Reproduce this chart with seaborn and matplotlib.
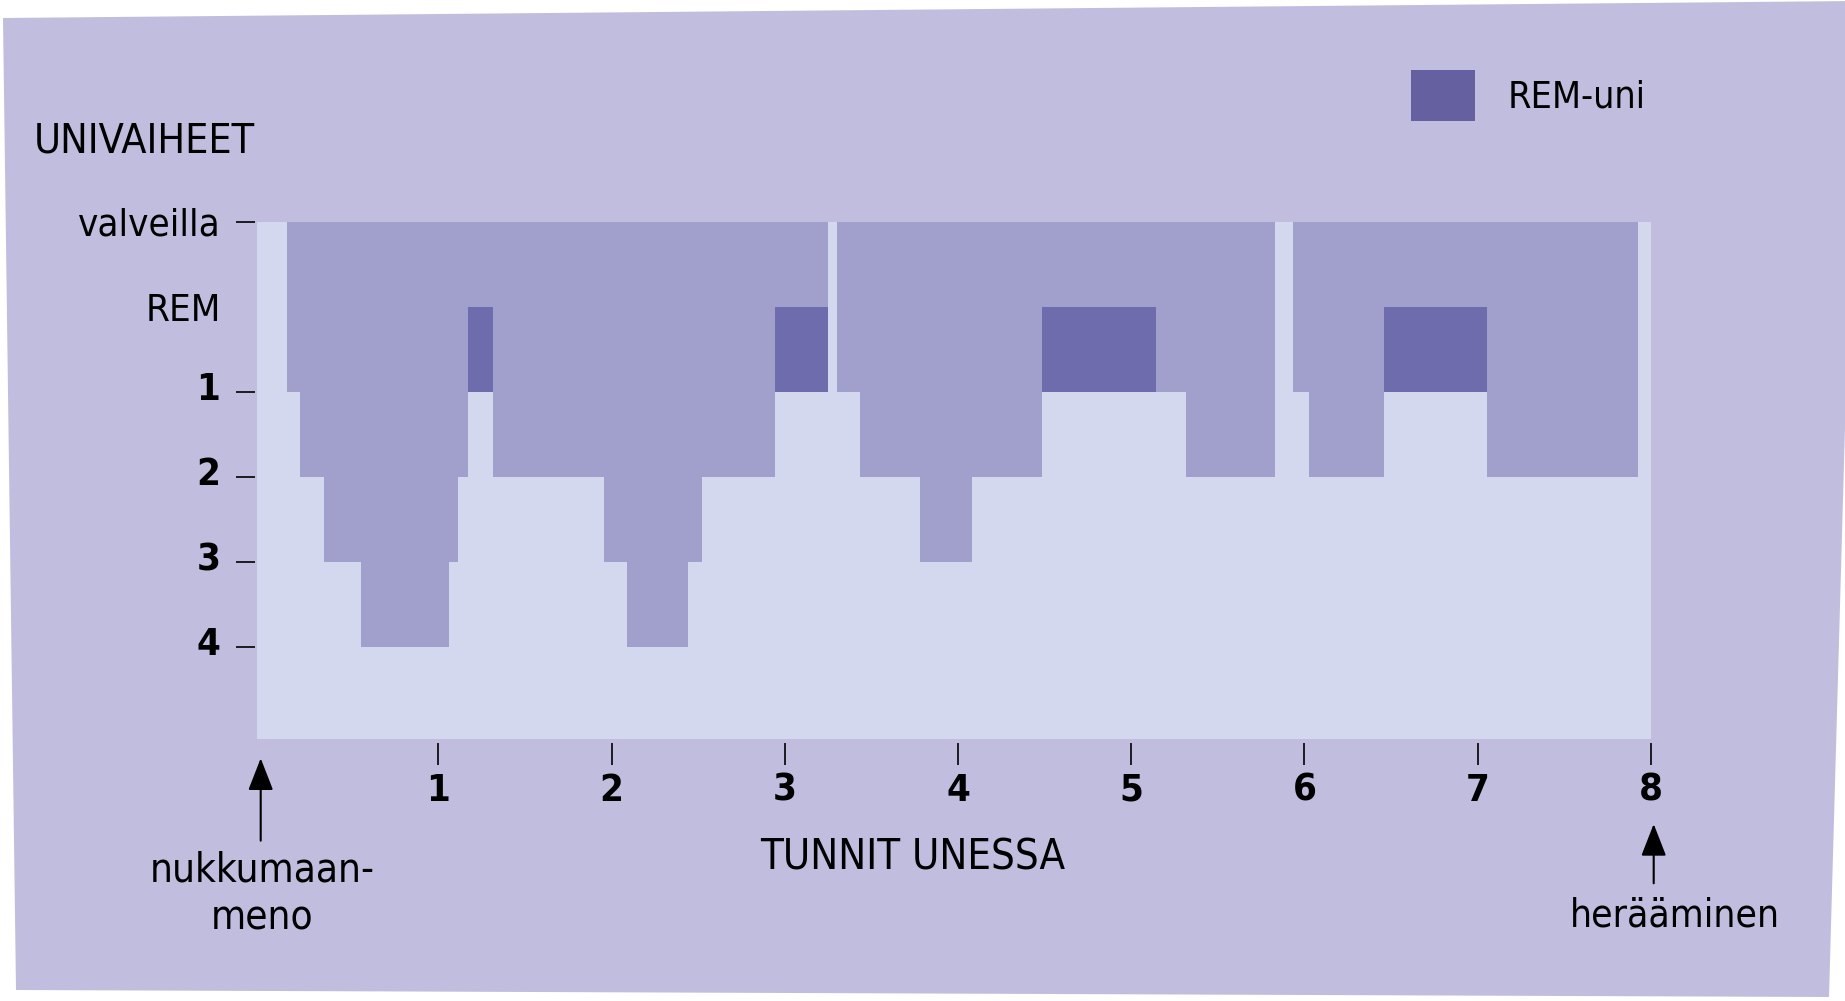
import matplotlib
matplotlib.use("Agg")
import matplotlib.pyplot as plt
from matplotlib import font_manager
from matplotlib.patches import Patch, Polygon
from matplotlib.transforms import ScaledTranslation
import seaborn as sns

# hypnogram: segment edges (hours in bed) and the stage of each segment
bounds = [0.0, 0.124, 0.200, 0.339, 0.551, 1.061, 1.111, 1.169, 1.313,
          1.957, 2.090, 2.438, 2.520, 2.946, 3.250, 3.302, 3.433, 3.783,
          4.080, 4.484, 5.141, 5.314, 5.830, 5.936, 6.025, 6.458, 7.054,
          7.927, 8.0]
stages = ["W", 1, 2, 3, 4, 3, 2, "REM", 2, 3, 4, 3, 2, "REM",
          "W", 1, 2, 3, 2, "REM", 1, 2,
          "W", 1, 2, "REM", 2, "W"]

hour_ticks = [1, 2, 3, 4, 5, 6, 7, 8]
stage_ticks = [-1, 1, 2, 3, 4]
stage_labels = ["valveilla", "1", "2", "3", "4"]

BG = "#c1bdde"
PLOT_BG = "#d4d8ef"
SLEEP = "#a19fcc"
REM_C = "#6e6cad"
REM_KEY = "#6561a1"

W, H = 1845, 1001

sns.set_theme(style="ticks", rc={"text.color": "black", "xtick.color": "black",
                                 "ytick.color": "black", "axes.labelcolor": "black"})
# condensed DejaVu is closest to the original face, if installed
cond = any(f.name == "DejaVu Sans" and f.stretch == "condensed"
           for f in font_manager.fontManager.ttflist)
plt.rcParams["font.family"] = ["DejaVu Sans"]
if cond:
    plt.rcParams["font.stretch"] = "condensed"
k = 1.0 if cond else 0.9

fig = plt.figure(figsize=(W / 100, H / 100), dpi=100, facecolor="white")

# slightly skewed backing card
corners = [(3, 18), (1857, 1), (1829, 997), (16, 990)]
fig.add_artist(Polygon([(x / W, 1 - y / H) for x, y in corners], closed=True,
                       transform=fig.transFigure, facecolor=BG,
                       edgecolor="none", zorder=-5))

ax = fig.add_axes([257.3 / W, 1 - 739.3 / H, (1650.8 - 257.3) / W, (739.3 - 221.7) / H])
ax.set_facecolor(PLOT_BG)

depth = [-1 if s == "W" else (1 if s == "REM" else s) for s in stages]
ax.fill_between(bounds, -1, depth + depth[-1:], step="post", color=SLEEP, lw=0)

rem = [i for i, s in enumerate(stages) if s == "REM"]
ax.bar([bounds[i] for i in rem], 1, bottom=0,
       width=[bounds[i + 1] - bounds[i] for i in rem],
       align="edge", color=REM_C, lw=0)

ax.set_xlim(-0.046, 8.0)
ax.set_ylim(5.08, -1)

for s in ax.spines.values():
    s.set_visible(False)
ax.spines["bottom"].set_position(("outward", 3))
ax.spines["left"].set_position(("outward", 1.5))

fs = 27.5 * k
ax.set_yticks(stage_ticks, stage_labels)
ax.set_yticks([0], ["REM"], minor=True)
ax.set_xticks(hour_ticks)
ax.tick_params(axis="y", which="major", length=14, width=1.2, pad=11, labelsize=fs)
ax.tick_params(axis="y", which="minor", length=0, pad=24.5, labelsize=fs)
ax.tick_params(axis="x", which="major", length=15.5, width=1.2, pad=5.5, labelsize=fs)
for lab in ax.get_xticklabels() + ax.get_yticklabels()[1:]:
    lab.set_fontweight("bold")
# stage digits sit a little above their ticks in the original
up = ScaledTranslation(0, 6 / 100, fig.dpi_scale_trans)
for lab in ax.get_yticklabels()[1:]:
    lab.set_transform(lab.get_transform() + up)

fig.text(34 / W, 1 - 152.3 / H, "UNIVAIHEET", fontsize=29.5 * k, ha="left", va="baseline")
fig.text(912.5 / W, 1 - 870 / H, "TUNNIT UNESSA", fontsize=30 * k, ha="center", va="baseline")
fig.text(262 / W, 1 - 881.7 / H, "nukkumaan-", fontsize=29 * k, ha="center", va="baseline")
fig.text(262 / W, 1 - 930 / H, "meno", fontsize=29 * k, ha="center", va="baseline")
fig.text(1675 / W, 1 - 926.7 / H, "herääminen", fontsize=28 * k, ha="center", va="baseline")

arrow = dict(arrowstyle="-|>,head_length=2.0,head_width=0.78", mutation_scale=10,
             color="black", lw=1.5, shrinkA=0, shrinkB=0)
ax.annotate("", xy=(260.7, H - 758.3), xytext=(260.7, H - 840.7),
            xycoords="figure pixels", textcoords="figure pixels", arrowprops=arrow)
ax.annotate("", xy=(1653.7, H - 824), xytext=(1653.7, H - 883.3),
            xycoords="figure pixels", textcoords="figure pixels", arrowprops=arrow)

lfs = 27 * k
em = lfs * 100 / 72
# legend patch height = fs*(0.65*hh + 0.245)
fig.legend(handles=[Patch(facecolor=REM_KEY, edgecolor="none", label="REM-uni")],
           loc="upper left", bbox_to_anchor=(1411 / W, 1 - 70 / H), frameon=False,
           fontsize=lfs, handlelength=64 / em, handleheight=(51 / em - 0.245) / 0.65,
           handletextpad=33 / em, borderpad=0, borderaxespad=0)

fig.savefig("out.png", dpi=100, facecolor="white")
